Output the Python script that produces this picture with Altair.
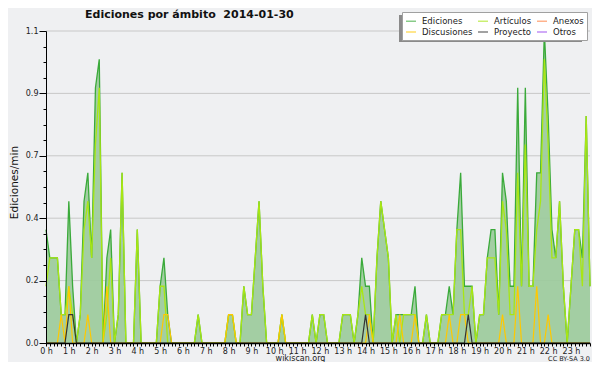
import altair as alt
import pandas as pd

# ---- data: edits per minute, 10-minute slots (6 per hour), 2014-01-30 ----
ediciones = [
    0.4, 0.3, 0.3, 0.3, 0.1, 0.1,   # 0 h
    0.5, 0.2, 0.0, 0.1, 0.5, 0.6,   # 1 h
    0.3, 0.9, 1.0, 0.0, 0.3, 0.4,   # 2 h
    0.0, 0.1, 0.6, 0.0, 0.0, 0.0,   # 3 h
    0.4, 0.0, 0.0, 0.0, 0.0, 0.0,   # 4 h
    0.2, 0.3, 0.1, 0.0, 0.0, 0.0,   # 5 h
    0.0, 0.0, 0.0, 0.0, 0.1, 0.0,   # 6 h
    0.0, 0.0, 0.0, 0.0, 0.0, 0.0,   # 7 h
    0.1, 0.1, 0.0, 0.0, 0.2, 0.1,   # 8 h
    0.1, 0.3, 0.5, 0.2, 0.0, 0.0,   # 9 h
    0.0, 0.0, 0.1, 0.0, 0.0, 0.0,   # 10 h
    0.0, 0.0, 0.0, 0.0, 0.1, 0.0,   # 11 h
    0.1, 0.1, 0.0, 0.0, 0.0, 0.0,   # 12 h
    0.1, 0.1, 0.1, 0.0, 0.1, 0.3,   # 13 h
    0.2, 0.2, 0.0, 0.3, 0.5, 0.4,   # 14 h
    0.3, 0.0, 0.1, 0.1, 0.1, 0.1,   # 15 h
    0.1, 0.2, 0.0, 0.0, 0.1, 0.0,   # 16 h
    0.0, 0.0, 0.1, 0.1, 0.2, 0.1,   # 17 h
    0.4, 0.6, 0.2, 0.2, 0.2, 0.0,   # 18 h
    0.1, 0.1, 0.3, 0.4, 0.4, 0.1,   # 19 h
    0.6, 0.5, 0.2, 0.2, 0.9, 0.2,   # 20 h
    0.9, 0.2, 0.2, 0.6, 0.6, 1.1,   # 21 h
    0.8, 0.4, 0.3, 0.5, 0.2, 0.0,   # 22 h
    0.2, 0.4, 0.4, 0.3, 0.8, 0.2,   # 23 h
]
articulos = [
    0.2, 0.3, 0.3, 0.3, 0.1, 0.1,
    0.2, 0.1, 0.0, 0.1, 0.4, 0.5,
    0.3, 0.7, 0.9, 0.0, 0.1, 0.3,
    0.0, 0.1, 0.6, 0.0, 0.0, 0.0,
    0.4, 0.0, 0.0, 0.0, 0.0, 0.0,
    0.2, 0.2, 0.0, 0.0, 0.0, 0.0,
    0.0, 0.0, 0.0, 0.0, 0.1, 0.0,
    0.0, 0.0, 0.0, 0.0, 0.0, 0.0,
    0.1, 0.1, 0.0, 0.0, 0.2, 0.1,
    0.1, 0.3, 0.5, 0.2, 0.0, 0.0,
    0.0, 0.0, 0.1, 0.0, 0.0, 0.0,
    0.0, 0.0, 0.0, 0.0, 0.1, 0.0,
    0.1, 0.1, 0.0, 0.0, 0.0, 0.0,
    0.1, 0.1, 0.1, 0.0, 0.1, 0.2,
    0.1, 0.1, 0.0, 0.3, 0.5, 0.4,
    0.3, 0.0, 0.1, 0.0, 0.1, 0.1,
    0.1, 0.1, 0.0, 0.0, 0.1, 0.0,
    0.0, 0.0, 0.1, 0.1, 0.1, 0.1,
    0.4, 0.4, 0.1, 0.1, 0.2, 0.0,
    0.1, 0.1, 0.3, 0.3, 0.3, 0.1,
    0.5, 0.4, 0.1, 0.1, 0.6, 0.2,
    0.7, 0.2, 0.2, 0.4, 0.5, 1.0,
    0.7, 0.3, 0.3, 0.5, 0.2, 0.0,
    0.2, 0.4, 0.4, 0.2, 0.8, 0.2,
]
discusiones = [
    0.0, 0.0, 0.0, 0.0, 0.1, 0.0,
    0.2, 0.0, 0.0, 0.0, 0.0, 0.1,
    0.0, 0.0, 0.0, 0.0, 0.2, 0.0,
    0.0, 0.0, 0.0, 0.0, 0.0, 0.0,
    0.0, 0.0, 0.0, 0.0, 0.0, 0.0,
    0.0, 0.1, 0.1, 0.0, 0.0, 0.0,
    0.0, 0.0, 0.0, 0.0, 0.0, 0.0,
    0.0, 0.0, 0.0, 0.0, 0.0, 0.0,
    0.1, 0.1, 0.0, 0.0, 0.0, 0.0,
    0.0, 0.0, 0.0, 0.0, 0.0, 0.0,
    0.0, 0.0, 0.1, 0.0, 0.0, 0.0,
    0.0, 0.0, 0.0, 0.0, 0.0, 0.0,
    0.0, 0.0, 0.0, 0.0, 0.0, 0.0,
    0.0, 0.0, 0.0, 0.0, 0.0, 0.0,
    0.0, 0.1, 0.0, 0.0, 0.0, 0.0,
    0.0, 0.0, 0.0, 0.1, 0.0, 0.0,
    0.0, 0.1, 0.0, 0.0, 0.0, 0.0,
    0.0, 0.0, 0.0, 0.0, 0.1, 0.0,
    0.0, 0.1, 0.1, 0.0, 0.0, 0.0,
    0.0, 0.0, 0.0, 0.0, 0.0, 0.0,
    0.1, 0.0, 0.0, 0.0, 0.2, 0.0,
    0.0, 0.0, 0.0, 0.2, 0.0, 0.0,
    0.1, 0.0, 0.0, 0.0, 0.0, 0.0,
    0.0, 0.0, 0.0, 0.0, 0.0, 0.0,
]
proyecto = [
    0.0, 0.0, 0.0, 0.0, 0.0, 0.0,
    0.1, 0.1, 0.0, 0.0, 0.0, 0.0,
] + [0.0] * 72 + [
    0.1, 0.0, 0.0, 0.0, 0.0, 0.0,   # 14 h
    0.0, 0.0, 0.0, 0.0, 0.0, 0.0,
    0.0, 0.0, 0.0, 0.0, 0.0, 0.0,
    0.0, 0.0, 0.0, 0.0, 0.0, 0.0,
    0.0, 0.0, 0.0, 0.1, 0.0, 0.0,   # 18 h
] + [0.0] * 30

series_names = ["Ediciones", "Artículos", "Anexos", "Discusiones", "Proyecto", "Otros"]
series_colors = ["#3aaa3a", "#a8e614", "#ff8040", "#ffc800", "#333333", "#9944ee"]

y_minor_ticks = [round(0.055 * k, 3) for k in range(21)]
y_grid = [0.22, 0.44, 0.66, 0.88, 1.1]
x_ticks = list(range(144))

title_text = "Ediciones por ámbito \u00a02014-01-30"
site_text = "wikiscan.org"
license_text = "CC BY-SA 3.0"

# ---- long table ----
rows = []
for name, vals in [("Ediciones", ediciones), ("Artículos", articulos),
                   ("Discusiones", discusiones), ("Proyecto", proyecto)]:
    for i, v in enumerate(vals):
        rows.append({"slot": i, "value": v, "serie": name})
df = pd.DataFrame(rows)

FONT = "DejaVu Sans"
major = "abs(datum.value / 0.22 - round(datum.value / 0.22)) < 0.01"

xscale = alt.Scale(domain=[0, 143], nice=False, zero=False)
yscale = alt.Scale(domain=[0, 1.1], nice=False, zero=True)

X = alt.X("slot:Q", scale=xscale, axis=alt.Axis(
    values=x_ticks,
    labelExpr="datum.value % 6 == 0 ? (datum.value / 6) + ' h' : ''",
    tickSize=3, labelPadding=1, labelFontSize=8, labelFont=FONT,
    labelColor="#222", domainColor="#000", tickColor="#000", domainWidth=1.5,
    labelOverlap=False, labelFlush=False, grid=False, title=None, zindex=1))

Y = alt.Y("value:Q", scale=yscale, axis=alt.Axis(
    values=y_minor_ticks,
    labelExpr=f"{major} ? format(datum.value, '.1f') : ''",
    tickSize={"condition": {"test": major, "value": 7}, "value": 3},
    labelPadding=1, labelFontSize=8, labelFont=FONT, labelColor="#222",
    domainColor="#000", tickColor="#000", labelOverlap=False, grid=False,
    title="Ediciones/min", titleFont=FONT, titleFontSize=10.5,
    titleFontWeight="normal", titleColor="#111", titleAngle=270,
    titleBaseline="alphabetic", titleX=-29, titleY=151, zindex=1))

C = alt.Color("serie:N", scale=alt.Scale(domain=series_names, range=series_colors),
              legend=alt.Legend(
                  title=None, orient="none", legendX=356, legendY=-19,
                  direction="horizontal", columns=3, gridAlign="each",
                  symbolType="stroke",
                  symbolSize=100, symbolStrokeWidth=1.5, symbolOpacity=0.6,
                  labelFont=FONT, labelFontSize=8.5, labelColor="#222",
                  labelOffset=5, columnPadding=2, rowPadding=-2, padding=3,
                  fillColor="#ffffff", strokeColor="#a0a0a0"))

grid = alt.Chart(pd.DataFrame({"value": y_grid})).mark_rule(
    color="#c8c8c8", strokeWidth=1).encode(y=Y)

area = alt.Chart(df).transform_filter(alt.datum.serie == "Ediciones").mark_area(
    color="#9ccb9c", opacity=0.92).encode(x=X, y=Y)

def line(name, width):
    return alt.Chart(df).transform_filter(alt.datum.serie == name).mark_line(
        strokeWidth=width).encode(x=X, y=Y, color=C)

l_tot = line("Ediciones", 1.3)
l_art = line("Artículos", 1.3)
l_dis = line("Discusiones", 1.2)
l_pro = line("Proyecto", 1.2)

one = pd.DataFrame({"t": [0]})
shadow = alt.Chart(one).mark_rect(color="#8a8a8a").encode(
    x=alt.value(353), x2=alt.value(536), y=alt.value(-16), y2=alt.value(11))

title = alt.Chart(pd.DataFrame({"t": [title_text]})).mark_text(
    font=FONT, fontSize=11, fontWeight="bold", align="left",
    baseline="alphabetic", color="#111").encode(
    text="t:N", x=alt.value(39), y=alt.value(-12.7))

site = alt.Chart(pd.DataFrame({"t": [site_text]})).mark_text(
    font=FONT, fontSize=8, align="center", baseline="alphabetic",
    color="#222").encode(text="t:N", x=alt.value(254.5), y=alt.value(330))

lic = alt.Chart(pd.DataFrame({"t": [license_text]})).mark_text(
    font=FONT, fontSize=6.5, align="right", baseline="alphabetic",
    color="#222").encode(text="t:N", x=alt.value(544), y=alt.value(330))

chart = alt.layer(grid, area, l_tot, l_art, l_dis, l_pro, shadow, title, site, lic).properties(
    width=544, height=312,
    autosize=alt.AutoSizeParams(type="none"),
    padding={"left": 38, "top": 23, "right": 2, "bottom": 19},
    background="#eff0f2",
).configure_view(strokeWidth=0)

chart.save("out.html", embed_options={"renderer": "svg", "actions": False})
